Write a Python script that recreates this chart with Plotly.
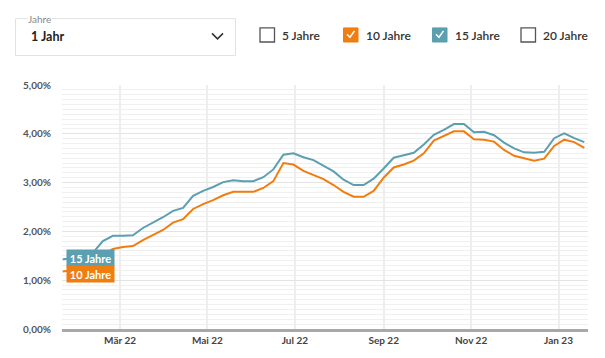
import plotly.graph_objects as go
import pandas as pd

# ---- data (weekly readings, percent) ----
dates = pd.date_range("2022-01-20", periods=53, freq="7D")

rate_15 = [1.43, 1.45, 1.49, 1.56, 1.80, 1.91, 1.91, 1.92, 2.07, 2.18,
           2.29, 2.42, 2.48, 2.73, 2.83, 2.91, 3.01, 3.05, 3.03, 3.03,
           3.11, 3.27, 3.57, 3.60, 3.52, 3.46, 3.35, 3.23, 3.06, 2.95,
           2.95, 3.08, 3.29, 3.51, 3.56, 3.61, 3.78, 3.98, 4.08, 4.20,
           4.20, 4.03, 4.04, 3.97, 3.82, 3.70, 3.62, 3.61, 3.63, 3.91,
           4.01, 3.91, 3.83]

rate_10 = [1.18, 1.21, 1.27, 1.37, 1.52, 1.64, 1.68, 1.70, 1.82, 1.92,
           2.03, 2.18, 2.25, 2.46, 2.56, 2.64, 2.74, 2.81, 2.81, 2.81,
           2.89, 3.03, 3.40, 3.37, 3.24, 3.15, 3.07, 2.95, 2.81, 2.71,
           2.71, 2.83, 3.10, 3.31, 3.37, 3.45, 3.60, 3.86, 3.96, 4.05,
           4.05, 3.89, 3.88, 3.84, 3.67, 3.55, 3.50, 3.45, 3.49, 3.75,
           3.88, 3.83, 3.71]

tick_dates = ["2022-03-01", "2022-05-01", "2022-07-01", "2022-09-01", "2022-11-01", "2023-01-01"]
tick_labels = ["Mär 22", "Mai 22", "Jul 22", "Sep 22", "Nov 22", "Jan 23"]

series_names = ["15 Jahre", "10 Jahre"]
options = ["5 Jahre", "10 Jahre", "15 Jahre", "20 Jahre"]
checked = [False, True, True, False]

TEAL = "#5b9fb0"
ORANGE = "#f07d0f"
FONT = "Lato"

# ---- layout geometry ----
W, H = 605, 358
ML, MR, MT, MB = 62, 17, 85, 25
PW = W - ML - MR
PH = H - MT - MB


def px(x):
    return (x - ML) / PW


def py(y):
    return (H - MB - y) / PH


fig = go.Figure()
fig.add_trace(go.Scatter(x=dates, y=rate_15, mode="lines", name=series_names[0],
                         line=dict(color=TEAL, width=2), showlegend=False))
fig.add_trace(go.Scatter(x=dates, y=rate_10, mode="lines", name=series_names[1],
                         line=dict(color=ORANGE, width=2), showlegend=False))

shapes = []
annotations = []

# series labels at start
for name, vals, col, ys in [(series_names[0], rate_15, TEAL, 1), (series_names[1], rate_10, ORANGE, -2.5)]:
    annotations.append(dict(x=px(66), xref="paper", xanchor="left", y=vals[0], yref="y", yanchor="middle",
                            yshift=ys,
                            text="<b>%s</b>" % name, showarrow=False, bgcolor=col, borderpad=2,
                            width=43, height=12, align="center",
                            font=dict(family=FONT, size=11, color="white")))

# dropdown box
shapes.append(dict(type="rect", xref="paper", yref="paper", x0=px(15.5), x1=px(235.5), y0=py(55), y1=py(17.5),
                   line=dict(color="#e2e2e2", width=1), fillcolor="white", layer="above"))
annotations.append(dict(x=px(27), xref="paper", xanchor="left", y=py(17.5), yref="paper", yanchor="middle",
                        text="Jahre", showarrow=False, bgcolor="white", borderpad=0,
                        font=dict(family=FONT, size=10, color="#888888")))
annotations.append(dict(x=px(29), xref="paper", xanchor="left", y=py(36), yref="paper", yanchor="middle",
                        text="<b>1 Jahr</b>", showarrow=False,
                        font=dict(family=FONT, size=12.5, color="#222222")))
shapes.append(dict(type="path", xref="paper", yref="paper",
                   path="M %f %f L %f %f L %f %f" % (px(212), py(32.5), px(217.5), py(38), px(223), py(32.5)),
                   line=dict(color="#333333", width=1.6)))

# checkboxes
box_x = [260, 343.5, 432.5, 521]
for xb, label, chk, col in zip(box_x, options, checked, [None, ORANGE, TEAL, None]):
    if chk:
        shapes.append(dict(type="rect", xref="paper", yref="paper", x0=px(xb), x1=px(xb + 14.5),
                           y0=py(41.3), y1=py(27), line=dict(color=col, width=1), fillcolor=col))
        shapes.append(dict(type="path", xref="paper", yref="paper",
                           path="M %f %f L %f %f L %f %f" % (px(xb + 3.5), py(33.5), px(xb + 6.5), py(36.5),
                                                             px(xb + 11), py(30)),
                           line=dict(color="white", width=1.5)))
    else:
        shapes.append(dict(type="rect", xref="paper", yref="paper", x0=px(xb), x1=px(xb + 14.5),
                           y0=py(41.3), y1=py(27), line=dict(color="#555555", width=1.3), fillcolor="white"))
    annotations.append(dict(x=px(xb + 20), xref="paper", xanchor="left", y=py(34.5), yref="paper", yanchor="middle",
                            text=label, showarrow=False,
                            font=dict(family=FONT, size=12, color="#333333", weight=600)))

fig.update_layout(
    width=W, height=H,
    margin=dict(l=ML, r=MR, t=MT, b=MB),
    paper_bgcolor="white", plot_bgcolor="white",
    separators=",.",
    shapes=shapes, annotations=annotations,
    hovermode=False,
    font=dict(family=FONT),
)
fig.update_xaxes(
    type="date", range=["2022-01-19 12:00", "2023-01-21 14:00"],
    tickvals=tick_dates, ticktext=tick_labels,
    showgrid=True, gridcolor="#eeeeee", gridwidth=1.5,
    showline=True, linecolor="#a8a8a8", linewidth=3,
    ticks="", tickfont=dict(family=FONT, size=10, color="#444444", weight="bold"),
    zeroline=False, fixedrange=True,
)
fig.update_yaxes(
    range=[0, 5], dtick=1, tickformat=".2f", ticksuffix="%",
    showgrid=True, gridcolor="#e4e4e4", gridwidth=1,
    minor=dict(dtick=0.1, showgrid=True, gridcolor="#f0f0f0", gridwidth=1),
    zeroline=False, showline=False, ticks="",
    ticklabelstandoff=10,
    tickfont=dict(family=FONT, size=10, color="#555555", weight="bold"),
    fixedrange=True,
)

fig.write_html("out.html", config={"displayModeBar": False},
               post_script="document.body.style.margin='0';document.body.style.overflow='hidden';")
